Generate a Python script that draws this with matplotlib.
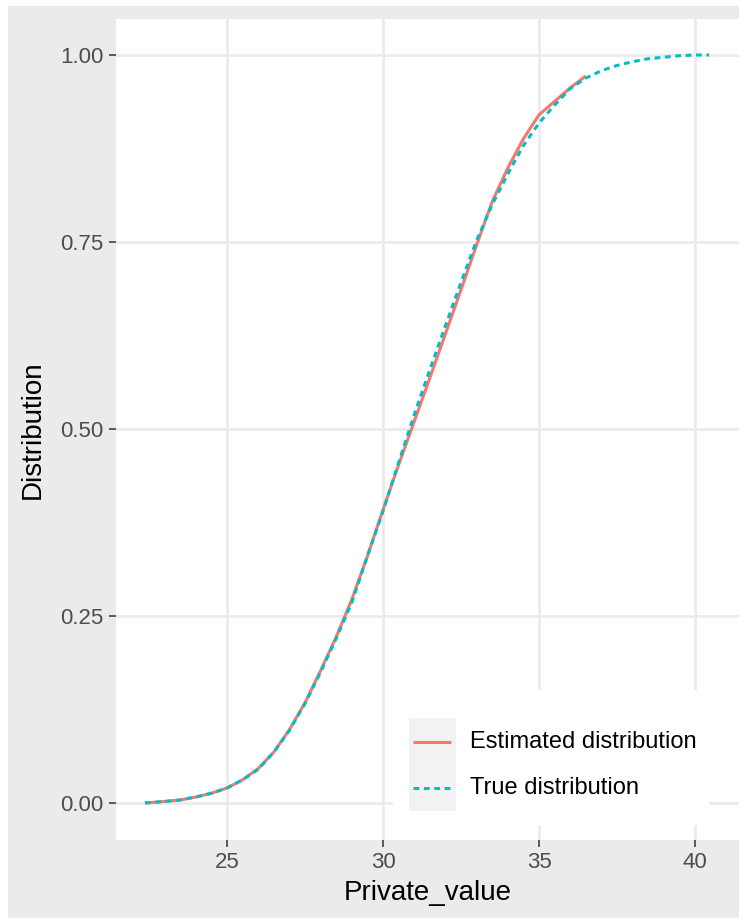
import matplotlib
matplotlib.use("Agg")
import matplotlib.pyplot as plt
from matplotlib.patches import Rectangle
from matplotlib.lines import Line2D

plt.rcParams['font.family'] = ['Liberation Sans', 'DejaVu Sans']

# data
true_x = [22.37, 23.0, 23.5, 24.0, 24.5, 25.0, 25.5, 26.0, 26.5, 27.0, 27.5, 28.0,
          28.5, 29.0, 29.5, 30.0, 30.5, 31.0, 31.5, 32.0, 32.5, 33.0, 33.5, 34.0,
          34.5, 35.0, 35.5, 36.0, 36.5, 37.0, 37.5, 38.0, 38.5, 39.0, 39.5, 40.0, 40.45]
true_y = [0.000, 0.002, 0.004, 0.008, 0.013, 0.020, 0.031, 0.045, 0.068, 0.097, 0.133, 0.175,
          0.220, 0.268, 0.330, 0.390, 0.455, 0.519, 0.579, 0.638, 0.696, 0.752, 0.800, 0.841,
          0.879, 0.909, 0.933, 0.955, 0.969, 0.979, 0.986, 0.991, 0.995, 0.997, 0.999, 1.000, 1.000]

est_x = [22.37, 23.0, 23.5, 24.0, 24.5, 25.0, 25.5, 26.0, 26.5, 27.0, 27.5, 28.0,
         28.5, 29.0, 29.5, 30.0, 30.5, 31.0, 31.5, 32.0, 32.5, 33.0, 33.5, 34.0,
         34.5, 35.0, 35.5, 36.0, 36.5]
est_y = [0.000, 0.002, 0.004, 0.008, 0.013, 0.020, 0.031, 0.046, 0.068, 0.098, 0.134, 0.177,
         0.222, 0.272, 0.330, 0.392, 0.452, 0.510, 0.568, 0.627, 0.686, 0.746, 0.804, 0.849,
         0.888, 0.920, 0.938, 0.956, 0.972]

x_ticks = [25, 30, 35, 40]
y_ticks = [0.0, 0.25, 0.5, 0.75, 1.0]
y_labels = ["0.00", "0.25", "0.50", "0.75", "1.00"]
labels = ["Estimated distribution", "True distribution"]
colors = ["#F8766D", "#00BFC4"]

W, H = 739, 918
fig = plt.figure(figsize=(W / 100, H / 100), dpi=100, facecolor="white")
fig.add_artist(Rectangle((8 / W, 0), 1, 1 - 6 / H, transform=fig.transFigure,
                         facecolor="#EBEBEB", edgecolor="none", zorder=0))

ax = fig.add_axes([116 / W, (H - 840) / H, (W - 116) / W, (840 - 19) / H])
ax.set_facecolor("white")

dash = (0, (1.9, 1.5))
ax.plot(est_x, est_y, color=colors[0], lw=2.2, zorder=3, solid_capstyle="butt")
ax.plot(true_x, true_y, color=colors[1], lw=2.2, ls=dash, zorder=4)

ax.set_xlim(21.442, 41.41)
ax.set_ylim(-0.0495, 1.0481)
ax.set_xticks(x_ticks)
ax.set_xticklabels([str(t) for t in x_ticks])
ax.set_yticks(y_ticks)
ax.set_yticklabels(y_labels)
ax.minorticks_off()

for s in ax.spines.values():
    s.set_visible(False)
ax.set_axisbelow(True)
ax.grid(True, color="#EBEBEB", lw=2.0)
ax.tick_params(axis="both", which="major", length=5.2, width=1.1, color="#333333",
               labelcolor="#4D4D4D", labelsize=16)
ax.tick_params(axis="x", pad=3.5)
ax.tick_params(axis="y", pad=4)

ax.set_xlabel("Private_value", fontsize=20, va="center")
ax.xaxis.set_label_coords(0.5, (840 - 893) / 821)
ax.set_ylabel("Distribution", fontsize=20, va="center")
ax.yaxis.set_label_coords((33 - 116) / 623, 0.5)

# legend box inside the panel
ax.add_patch(Rectangle((0.4446, 0.0183), 0.9518 - 0.4446, 0.1827 - 0.0183,
                       transform=ax.transAxes, facecolor="white", edgecolor="none", zorder=2))
ax.add_patch(Rectangle((0.4703, 0.0353), 0.5457 - 0.4703, 0.1486 - 0.0353,
                       transform=ax.transAxes, facecolor="#F2F2F2", edgecolor="none", zorder=2.1))
key_y = [0.1194, 0.0633]
styles = ["-", dash]
for lab, col, st, yy in zip(labels, colors, styles, key_y):
    ax.add_line(Line2D([0.4767, 0.5377], [yy, yy], transform=ax.transAxes, color=col,
                       lw=2.2, ls=st, zorder=2.2, solid_capstyle="butt"))
    ax.text(0.5682, yy, lab, transform=ax.transAxes, fontsize=17, va="center",
            ha="left", color="black", zorder=2.3)

fig.savefig("out.png", dpi=100, facecolor=fig.get_facecolor())
